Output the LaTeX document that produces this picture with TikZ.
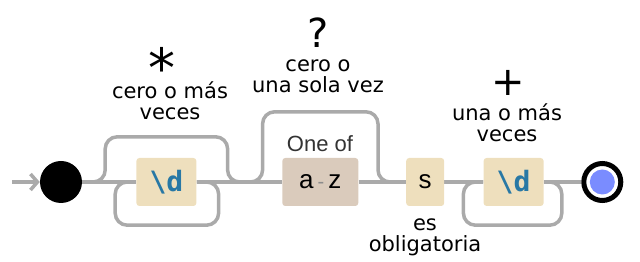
\documentclass[tikz,border=0pt]{standalone}
\usepackage{fontspec}
\setmainfont{DejaVu Sans}
\newfontfamily\boxfont{Liberation Sans}
\newfontfamily\escfont{DejaVu Sans Mono}
\usetikzlibrary{arrows.meta,positioning,backgrounds}
\definecolor{RailGray}{HTML}{AAAAAA}
\definecolor{LitFill}{HTML}{EEDFBD}
\definecolor{RangeFill}{HTML}{DACBBC}
\definecolor{EscBlue}{HTML}{2878A5}
\definecolor{EndBlue}{HTML}{7A8CFF}

\begin{document}
\begin{tikzpicture}[
  x=1pt, y=1pt,
  rail/.style={draw=RailGray, line width=3.5pt},
  railloop/.style={rail, rounded corners=12pt},
  lit/.style={rectangle, rounded corners=3pt, fill=LitFill, minimum height=48pt, inner sep=0pt, font=\boxfont\fontsize{26}{26}\selectfont},
  esc/.style={lit, minimum width=60pt, font=\escfont\bfseries\fontsize{28}{28}\selectfont, text=EscBlue},
  rangebox/.style={lit, fill=RangeFill, minimum width=76pt},
  note/.style={align=center, anchor=base, font=\fontsize{21}{21.5}\selectfont},
  quant/.style={anchor=base, inner sep=0pt, text depth=0pt, font=\fontsize{40}{40}\selectfont}
]
\useasboundingbox (0,0) rectangle (640,262);

% start point
\node[circle, fill=black, minimum size=42pt, inner sep=0pt] (start) at (61,80) {};
\coordinate (entry) at (12,80);

% items on the rail
\node[esc, right=54pt of start] (digitA) {\textbackslash d};
\node[rangebox, right=85.5pt of digitA] (letters) {a\hspace{4pt}{\color{black!45}\fontsize{20}{20}\selectfont -}\hspace{4pt}z};
\node[lit, minimum width=38pt, right=47.5pt of letters] (ess) {s};
\node[esc, right=39pt of ess] (digitB) {\textbackslash d};

% end point
\node[circle, draw=black, line width=5pt, fill=white, minimum size=37pt, inner sep=0pt, right=37.5pt of digitB] (finish) {};
\fill[EndBlue] (finish) circle (12.5);

% rails
\begin{scope}[on background layer]
\draw[rail, -{Straight Barb[length=7pt, width=16pt]}] (entry) -- (start);
\draw[rail] (start) -- (digitA) -- (letters) -- (ess) -- (digitB) -- (finish);
% skip and repeat around the first \d
\draw[railloop] ([xshift=-43pt]digitA.west) -| ([xshift=-31pt, yshift=21pt]digitA.north west) -| ([xshift=31pt]digitA.east) -- ([xshift=43pt]digitA.east);
\draw[railloop] (digitA.east) -| ([xshift=22pt, yshift=-19pt]digitA.south east) -| ([xshift=-21pt]digitA.west) -- (digitA.west);
% skip over the range
\draw[railloop] ([xshift=-31.5pt]letters.west) -| ([xshift=-19.5pt, yshift=46pt]letters.north west) -| ([xshift=19.5pt]letters.east) -- ([xshift=31.5pt]letters.east);
% repeat around the second \d
\draw[railloop] (digitB.east) -| ([xshift=18pt, yshift=-19pt]digitB.south east) -| ([xshift=-20pt]digitB.west) -- (digitB.west);
\end{scope}

% labels
\node[anchor=base, font=\boxfont\fontsize{22}{22}\selectfont, text=black!80] (oneOf) at (320,110) {One of};
\node[quant, text depth=-16pt, font=\fontsize{54}{54}\selectfont] (star) at (162,174) {*};
\node[note] (zeroMore) at (170,142) {cero o más\\veces};
\node[quant] (qmark) at (318,214) {?};
\node[note] (zeroOne) at (318,169) {cero o\\una sola vez};
\node[quant] (plus) at (508,166) {+};
\node[note] (oneMore) at (507,120) {una o más\\veces};
\node[note] (needed) at (425,10) {es\\obligatoria};

\end{tikzpicture}
\end{document}
